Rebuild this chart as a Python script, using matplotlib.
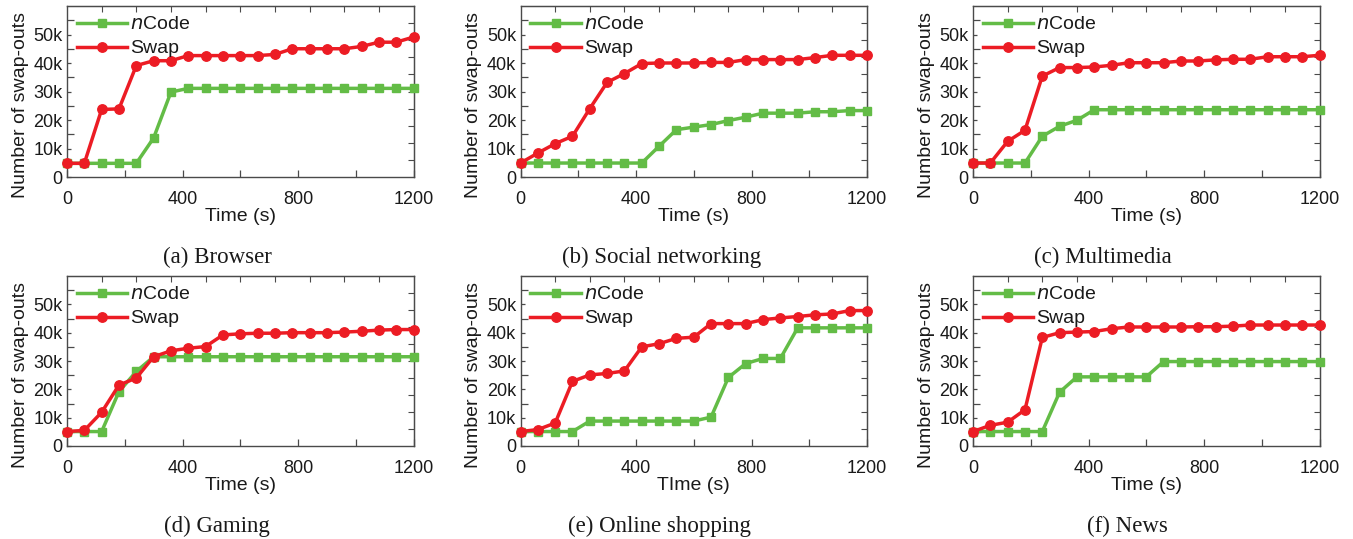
import matplotlib
matplotlib.use("Agg")
import matplotlib.pyplot as plt
from matplotlib.ticker import FixedLocator, NullFormatter, FuncFormatter

plt.rcParams['font.family'] = ['Liberation Sans', 'DejaVu Sans']

# ---------------- data ----------------
time_s = [0, 60, 120, 180, 240, 300, 360, 420, 480, 540, 600, 660,
          720, 780, 840, 900, 960, 1020, 1080, 1140, 1200]

captions = ["(a) Browser", "(b) Social networking", "(c) Multimedia",
            "(d) Gaming", "(e) Online shopping", "(f) News"]
xlabels = ["Time (s)", "Time (s)", "Time (s)", "Time (s)", "TIme (s)", "Time (s)"]

browser_ncode = [4800, 4800, 4800, 4800, 4800, 13700, 29800, 31100, 31100, 31100, 31100,
                 31100, 31100, 31100, 31100, 31100, 31100, 31100, 31100, 31100, 31100]
browser_swap = [4800, 4800, 23700, 23900, 39100, 40800, 40800, 42600, 42600, 42600, 42600,
                42600, 43000, 45000, 45000, 45000, 45000, 45800, 47300, 47300, 49100]

social_ncode = [4900, 4900, 4900, 4900, 4900, 4900, 4900, 4900, 10800, 16600, 17500,
                18400, 19800, 21000, 22400, 22400, 22400, 22900, 22900, 23300, 23300]
social_swap = [4900, 8400, 11700, 14300, 24000, 33200, 36300, 39800, 40000, 40000, 40000,
               40200, 40200, 41200, 41200, 41200, 41200, 41900, 42700, 42700, 42700]

media_ncode = [4900, 4900, 4900, 4900, 14300, 17800, 19900, 23600, 23600, 23600, 23600,
               23600, 23600, 23600, 23600, 23600, 23600, 23600, 23600, 23600, 23600]
media_swap = [4900, 4900, 12500, 16400, 35400, 38400, 38400, 38600, 39200, 40100, 40100,
              40100, 40700, 40700, 41100, 41300, 41300, 42200, 42200, 42200, 42700]

gaming_ncode = [5100, 5100, 5100, 19200, 26300, 31500, 31500, 31500, 31500, 31500, 31500,
                31500, 31500, 31500, 31500, 31500, 31500, 31500, 31500, 31500, 31500]
gaming_swap = [5100, 5500, 11900, 21500, 24000, 31500, 33600, 34500, 35100, 39200, 39600,
               39800, 39800, 40000, 40000, 40000, 40200, 40500, 40900, 41100, 41100]

shop_ncode = [5100, 5100, 5100, 5100, 8800, 8800, 8800, 8800, 8800, 8800, 8800,
              10200, 24200, 29100, 30900, 30900, 41700, 41700, 41700, 41700, 41700]
shop_swap = [5100, 5800, 8100, 22800, 25100, 25600, 26500, 35000, 36100, 38000, 38400,
             43200, 43200, 43200, 44600, 45200, 45700, 46300, 46600, 47800, 47800]

news_ncode = [5100, 5100, 5100, 5100, 5100, 19000, 24400, 24400, 24400, 24400, 24400,
              29800, 29800, 29800, 29800, 29800, 29800, 29800, 29800, 29800, 29800]
news_swap = [5100, 7300, 8400, 12800, 38300, 40000, 40200, 40400, 41400, 42000, 42000,
             42000, 42000, 42100, 42100, 42300, 42700, 42700, 42700, 42700, 42700]

ncode_series = [browser_ncode, social_ncode, media_ncode, gaming_ncode, shop_ncode, news_ncode]
swap_series = [browser_swap, social_swap, media_swap, gaming_swap, shop_swap, news_swap]

y_labels_at = [0, 10000, 20000, 30000, 40000, 50000]
y_long_ticks = [5000, 15000, 25000, 35000, 45000, 55000]
x_labels_at = [0, 400, 800, 1200]
x_minor_ticks = [200, 600, 1000]
top_ticks = [120, 240, 360, 480, 600, 720, 840, 960, 1080]
right_ticks = [6000, 12000, 18000, 24000, 30000, 36000, 42000, 48000, 54000]

# ---------------- style ----------------
GREEN = '#63BC46'
RED = '#EC1C24'
SPINE = '#4a4a4a'
TXT = '#1a1a1a'

W, H = 1353, 539
fig = plt.figure(figsize=(W / 100, H / 100), dpi=100)

lefts = [67, 520.5, 973]
tops = [6, 276]
bottoms = [177, 446]
width_px = 346.5
caption_cx = [217, 662, 1103, 217, 659, 1127]
caption_cy = [257, 526]


def kfmt(v, pos):
    return "0" if v == 0 else "%dk" % int(round(v / 1000))


for i in range(6):
    r, c = divmod(i, 3)
    l = lefts[c] / W
    b = 1 - bottoms[r] / H
    h = (bottoms[r] - tops[r]) / H
    ax = fig.add_axes([l, b, width_px / W, h])

    ax.plot(time_s, ncode_series[i], color=GREEN, lw=2.5, marker='s', ms=5.4,
            mec=GREEN, mfc=GREEN, label=r'$\mathit{n}$Code', zorder=3, clip_on=False)
    ax.plot(time_s, swap_series[i], color=RED, lw=2.5, marker='o', ms=6.8,
            mec=RED, mfc=RED, label='Swap', zorder=4, clip_on=False)

    ax.set_xlim(0, 1200)
    ax.set_ylim(0, 60000)

    ax.yaxis.set_major_locator(FixedLocator(y_labels_at))
    ax.yaxis.set_major_formatter(FuncFormatter(kfmt))
    ax.yaxis.set_minor_locator(FixedLocator(y_long_ticks))
    ax.xaxis.set_major_locator(FixedLocator(x_labels_at))
    ax.xaxis.set_minor_locator(FixedLocator(x_minor_ticks))
    ax.xaxis.set_minor_formatter(NullFormatter())
    ax.yaxis.set_minor_formatter(NullFormatter())

    ax.tick_params(axis='y', which='major', direction='in', length=3, width=0.9,
                   color=SPINE, labelsize=13, pad=3, labelcolor=TXT)
    ax.tick_params(axis='y', which='minor', direction='in', length=5, width=0.9,
                   color=SPINE)
    ax.tick_params(axis='x', which='major', direction='in', length=5, width=0.9,
                   color=SPINE, labelsize=13, pad=10, labelcolor=TXT)
    ax.tick_params(axis='x', which='minor', direction='in', length=5, width=0.9,
                   color=SPINE)

    for s in ax.spines.values():
        s.set_color(SPINE)
        s.set_linewidth(1.0)

    sec_y = ax.secondary_yaxis('right')
    sec_y.set_yticks(right_ticks)
    sec_y.yaxis.set_major_formatter(NullFormatter())
    sec_y.tick_params(direction='in', length=4, width=0.8, color=SPINE)
    sec_y.spines['right'].set_color(SPINE)

    sec_x = ax.secondary_xaxis('top')
    sec_x.set_xticks(top_ticks)
    sec_x.xaxis.set_major_formatter(NullFormatter())
    sec_x.tick_params(direction='in', length=4, width=0.8, color=SPINE)
    sec_x.spines['top'].set_color(SPINE)

    ax.set_xlabel(xlabels[i], fontsize=14, labelpad=0, color=TXT)
    ax.set_ylabel('Number of swap-outs', fontsize=14, color=TXT)
    ax.yaxis.set_label_coords(-0.11, 0.42)

    leg = ax.legend(loc='upper left', frameon=False, fontsize=14,
                    handlelength=2.6, handletextpad=0.15, labelspacing=0.33,
                    borderpad=0.0, borderaxespad=0.5)
    for t in leg.get_texts():
        t.set_color(TXT)

    fig.text(caption_cx[i] / W, 1 - caption_cy[r] / H, captions[i], ha='center',
             va='center', fontsize=16.5,
             family=['Liberation Serif', 'DejaVu Serif'], color=TXT)

fig.savefig('out.png', dpi=100)
